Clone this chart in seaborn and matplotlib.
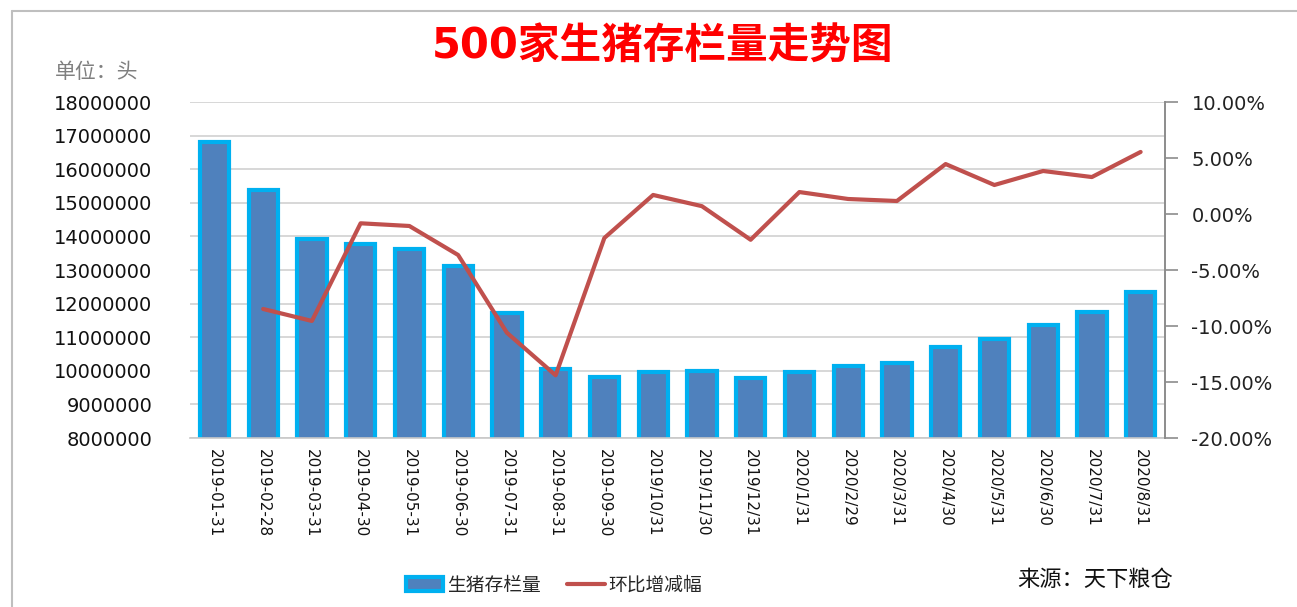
import numpy as np
import pandas as pd
import matplotlib
matplotlib.use('Agg')
import matplotlib.pyplot as plt
import seaborn as sns
from matplotlib.lines import Line2D

# 数据
dates = ['2019-01-31', '2019-02-28', '2019-03-31', '2019-04-30', '2019-05-31',
         '2019-06-30', '2019-07-31', '2019-08-31', '2019-09-30', '2019/10/31',
         '2019/11/30', '2019/12/31', '2020/1/31', '2020/2/29', '2020/3/31',
         '2020/4/30', '2020/5/31', '2020/6/30', '2020/7/31', '2020/8/31']
stock = [16810000, 15380000, 13920000, 13770000, 13630000, 13120000, 11720000,
         10050000, 9820000, 9960000, 9990000, 9790000, 9960000, 10140000,
         10230000, 10710000, 10950000, 11360000, 11750000, 12350000]
mom = [np.nan, -8.48, -9.55, -0.83, -1.07, -3.66, -10.6, -14.4, -2.14, 1.70,
       0.70, -2.30, 1.96, 1.34, 1.16, 4.46, 2.59, 3.84, 3.30, 5.54]
left_ticks = list(range(8000000, 18000001, 1000000))
right_ticks = [-20, -15, -10, -5, 0, 5, 10]

df = pd.DataFrame({'date': dates, 'stock': stock, 'mom': mom})

sns.set_theme(style='white')
plt.rcParams['font.family'] = ['DejaVu Sans', 'Noto Sans CJK SC']

fig = plt.figure(figsize=(12.97, 6.07), dpi=100)
ax = fig.add_axes([190 / 1297, 1 - 438 / 607, 975 / 1297, 336 / 607])

sns.barplot(data=df, x='date', y='stock', ax=ax, color='#4F81BD',
            edgecolor='#00B0F0', linewidth=3.0, width=0.6, saturation=1)
ax.set_xlim(-0.5, 19.5)
ax.set_ylim(8000000, 18000000)
ax.set_yticks(left_ticks)
ax.set_yticklabels([str(v) for v in left_ticks], fontsize=14, color='#111111')
ax.tick_params(axis='y', length=0, pad=27)
ax.tick_params(axis='x', length=0, pad=8, labelsize=11, labelcolor='#111111')
for lab in ax.get_xticklabels():
    lab.set_rotation(-90)
ax.set_xlabel('')
ax.set_ylabel('')
ax.yaxis.grid(True, color='#D4D4D4', linewidth=1.3)
ax.set_axisbelow(True)
for s in ['left', 'top', 'right']:
    ax.spines[s].set_visible(False)
ax.spines['bottom'].set_color('#C8C8C8')
ax.spines['bottom'].set_linewidth(1.2)

ax2 = ax.twinx()
sns.lineplot(data=df, x='date', y='mom', ax=ax2, color='#C0504D',
             linewidth=3.0, sort=False)
ax2.set_ylim(-20, 10)
ax2.set_yticks(right_ticks)
ax2.set_yticklabels([f'{v:.2f}%' for v in right_ticks], fontsize=14, color='#222222')
ax2.tick_params(axis='y', direction='out', length=9, width=1.2,
                color='#8C8C8C', pad=10)
ax2.set_ylabel('')
for s in ['left', 'top', 'bottom']:
    ax2.spines[s].set_visible(False)
ax2.spines['right'].set_color('#8C8C8C')
ax2.spines['right'].set_linewidth(1.4)

# 标题和文字
fig.text(663 / 1297, 1 - 47 / 607, '500家生猪存栏量走势图', ha='center', va='center',
         fontsize=30, fontweight='bold', color='#FF0000')
fig.text(97 / 1297, 1 - 72 / 607, '单位：头', ha='center', va='center',
         fontsize=15, style='italic', color='#7F7F7F')
fig.text(1095 / 1297, 1 - 580 / 607, '来源：天下粮仓', ha='center', va='center',
         fontsize=16, style='italic', color='#111111')

# 图例
bar_handle = plt.Rectangle((0, 0), 1, 1, facecolor='#4F81BD',
                           edgecolor='#00B0F0', linewidth=3.0)
line_handle = Line2D([], [], color='#C0504D', linewidth=3.0)
fig.legend([bar_handle, line_handle], ['生猪存栏量', '环比增减幅'], ncol=2,
           loc='center', bbox_to_anchor=(554 / 1297, 1 - 585 / 607),
           frameon=False, fontsize=13.5, handlelength=2.0, handleheight=0.8,
           handletextpad=0.2, columnspacing=1.4)

# 外框
fig.add_artist(Line2D([12 / 1297, 12 / 1297], [0, 1 - 11 / 607],
                      transform=fig.transFigure, color='#BFBFBF', linewidth=1.5))
fig.add_artist(Line2D([12 / 1297, 1], [1 - 11 / 607, 1 - 11 / 607],
                      transform=fig.transFigure, color='#BFBFBF', linewidth=1.5))

fig.savefig('out.png', dpi=100)
